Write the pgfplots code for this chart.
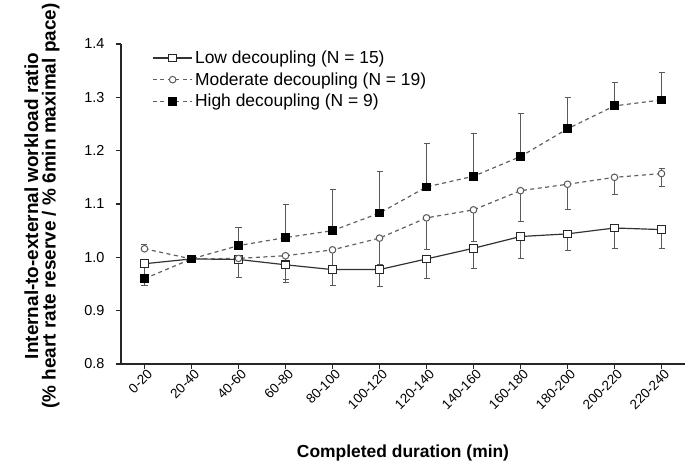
\documentclass[border=0pt]{standalone}
\usepackage{pgfplots}
\pgfplotsset{compat=1.18}
\usepackage{fontspec}
\setmainfont{Liberation Sans}
\begin{document}
\begin{tikzpicture}
\begin{axis}[
  scale only axis,
  width=564bp, height=320bp,
  xmin=-0.5, xmax=11.5,
  ymin=0.8, ymax=1.4,
  axis lines=left,
  axis line style={-, line width=1.4pt, black!85},
  every tick/.style={black!85, line width=1.2pt},
  tick align=outside,
  major tick length=5bp,
  xtick={0,...,11},
  xticklabels={0-20,20-40,40-60,60-80,80-100,100-120,120-140,140-160,160-180,180-200,200-220,220-240},
  x tick label style={rotate=45, anchor=north east, font=\fontsize{13.5}{15}\selectfont, inner sep=1pt, xshift=3bp},
  ytick={0.8,0.9,...,1.41},
  yticklabel style={/pgf/number format/fixed, /pgf/number format/fixed zerofill, /pgf/number format/precision=1, font=\fontsize{14.5}{16}\selectfont, xshift=-8bp},
  /pgf/number format/assume math mode=true,
  xlabel={\textbf{Completed duration (min)}},
  xlabel style={font=\fontsize{17.5}{20}\selectfont, yshift=-30bp},
  ylabel={\textbf{Internal-to-external workload ratio}\\\textbf{(\% heart rate reserve / \% 6min maximal pace)}},
  ylabel style={align=center, font=\fontsize{19}{17.5}\selectfont, yshift=18bp, xshift=-2bp},
  legend style={at={(0.055,0.985)}, anchor=north west, draw=none, fill=none, font=\fontsize{17.5}{19}\selectfont, row sep=3.5bp, inner sep=0pt},
  legend cell align=left,
  legend image code/.code={\draw[mark repeat=2,mark phase=2] plot coordinates {(0cm,0cm) (0.7cm,0cm) (1.4cm,0cm)};},
  error bars/error bar style={solid, gray!70!black, line width=0.9pt},
  error bars/error mark options={solid, rotate=90, mark size=3bp, line width=0.9pt, gray!70!black},
  clip=false,
]
% Low decoupling
\addplot[black!80, line width=1.2pt, mark=square*, mark size=3.8bp, mark options={solid, fill=white, draw=black!85, line width=1.1pt},
  error bars/.cd, y dir=both, y explicit]
coordinates {
(0,0.988) += (0,0) -= (0,0.020)
(1,0.997) += (0,0) -= (0,0)
(2,0.996) += (0,0) -= (0,0.034)
(3,0.986) += (0,0) -= (0,0.034)
(4,0.977) += (0,0) -= (0,0.030)
(5,0.977) += (0,0) -= (0,0.032)
(6,0.997) += (0,0) -= (0,0.037)
(7,1.017) += (0,0) -= (0,0.037)
(8,1.039) += (0,0) -= (0,0.042)
(9,1.044) += (0,0) -= (0,0.031)
(10,1.055) += (0,0) -= (0,0.038)
(11,1.052) += (0,0) -= (0,0.036)
};
\addlegendentry{Low decoupling (N = 15)}
% Moderate decoupling
\addplot[gray!75!black, line width=1.2pt, dash pattern=on 4bp off 3.5bp, mark=*, mark size=3.3bp, mark options={solid, fill=white, draw=gray!70!black, line width=1pt},
  error bars/.cd, y dir=both, y explicit]
coordinates {
(0,1.016) += (0,0.008) -= (0,0)
(1,0.997) += (0,0) -= (0,0)
(2,0.998) += (0,0) -= (0,0.035)
(3,1.003) += (0,0) -= (0,0.045)
(4,1.014) += (0,0) -= (0,0.040)
(5,1.036) += (0,0) -= (0,0.050)
(6,1.074) += (0,0) -= (0,0.060)
(7,1.089) += (0,0) -= (0,0.060)
(8,1.125) += (0,0) -= (0,0.058)
(9,1.137) += (0,0) -= (0,0.048)
(10,1.150) += (0,0) -= (0,0.033)
(11,1.157) += (0,0.010) -= (0,0.024)
};
\addlegendentry{Moderate decoupling (N = 19)}
% High decoupling
\addplot[gray!75!black, line width=1.2pt, dash pattern=on 4bp off 3.5bp, mark=square*, mark size=3.8bp, mark options={solid, fill=black, draw=black},
  error bars/.cd, y dir=both, y explicit]
coordinates {
(0,0.960) += (0,0) -= (0,0.013)
(1,0.997) += (0,0) -= (0,0)
(2,1.022) += (0,0.034) -= (0,0)
(3,1.037) += (0,0.062) -= (0,0)
(4,1.050) += (0,0.078) -= (0,0)
(5,1.083) += (0,0.078) -= (0,0)
(6,1.132) += (0,0.081) -= (0,0)
(7,1.152) += (0,0.081) -= (0,0)
(8,1.189) += (0,0.081) -= (0,0)
(9,1.241) += (0,0.059) -= (0,0)
(10,1.284) += (0,0.044) -= (0,0)
(11,1.295) += (0,0.051) -= (0,0)
};
\addlegendentry{High decoupling (N = 9)}
\end{axis}
\path (current axis.south west) ++(-121bp,-107bp) coordinate (bbsw);
\path (current axis.north east) ++(7bp,44bp) coordinate (bbne);
\path (bbsw) rectangle (bbne);
\end{tikzpicture}
\end{document}
